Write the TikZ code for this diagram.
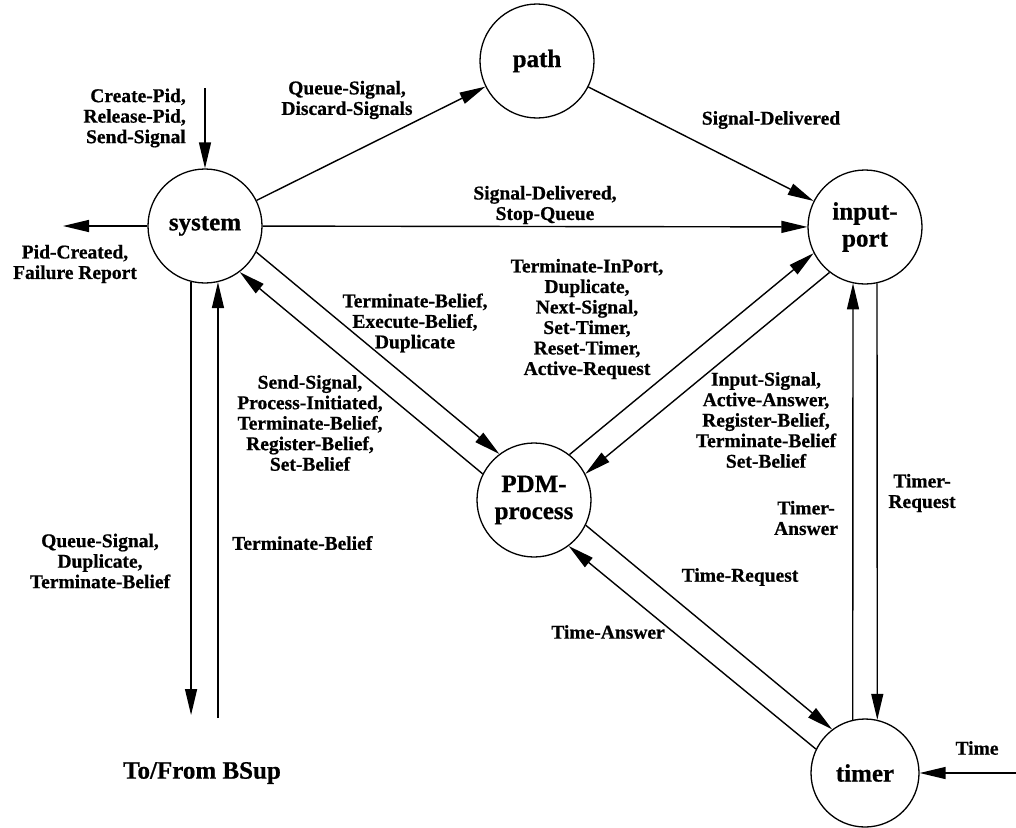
\documentclass[tikz,border=0pt]{standalone}
\usepackage{fontspec}
\setmainfont{Liberation Serif}[BoldFeatures={FakeBold=0.7}]
\usetikzlibrary{arrows.meta,calc}
\begin{document}
\begin{tikzpicture}[x=1pt,y=-1pt,
  state/.style={circle,draw,line width=1.3pt,minimum size=114pt,inner sep=0pt,
    align=center,font=\fontsize{25}{27}\selectfont\bfseries},
  sig/.style={line width=1.4pt,-{Triangle[length=26pt,width=12pt]}},
  lab/.style={inner sep=0pt,align=center,font=\fontsize{19.5}{20.5}\selectfont\bfseries}]
\useasboundingbox (0,0) rectangle (1016,827);

% processes
\node[state] (sys)   at (205,226) {system};
\node[state] (path)  at (537,61)  {path};
\node[state] (inp)   at (865,227) {input-\\port};
\node[state] (pdm)   at (534,500) {PDM-\\process};
\node[state,minimum size=108pt] (timer) at (865,773) {timer};

% free ends of the external flows
\coordinate (ext-in)   at (205,88);
\coordinate (ext-out)  at (63,226);
\coordinate (clock)    at (1016,773);
\coordinate (bsup-dn)  at (191,715);
\coordinate (bsup-up)  at (218,718);

% flows
\draw[sig] (ext-in) -- (sys);
\draw[sig] (sys) -- (ext-out);
\draw[sig] (sys) -- (path);
\draw[sig] (path) -- (inp);
\draw[sig] (sys) -- (inp);
\draw[sig] (sys.-27) -- (pdm.127);
\draw[sig] (pdm.153) -- (sys.-53);
\draw[sig] (pdm.52) -- (inp.207);
\draw[sig] (inp.232) -- (pdm.27);
\draw[sig] (pdm.-26) -- (timer.127);
\draw[sig] (timer.154) -- (pdm.-53);
\draw[sig] (timer.103) -- (inp.258);
\draw[sig] (inp.282) -- (timer.77);
\draw[sig] (clock) -- (timer);
\draw[sig] (sys.256) -- (sys.256 |- bsup-dn);
\draw[sig] (sys.283 |- bsup-up) -- (sys.283);

% flow labels
\node[lab,align=right,anchor=east] (l-create) at (186,118) {Create-Pid,\\Release-Pid,\\Send-Signal};
\node[lab] (l-pid)   at (75,264)  {Pid-Created,\\Failure Report};
\node[lab] (l-queue) at (347,100) {Queue-Signal,\\Discard-Signals};
\node[lab] (l-deliv) at (771,120) {Signal-Delivered};
\node[lab] (l-stop)  at (545,205) {Signal-Delivered,\\Stop-Queue};
\node[lab] (l-inport) at (587,319) {Terminate-InPort,\\Duplicate,\\Next-Signal,\\Set-Timer,\\Reset-Timer,\\Active-Request};
\node[lab] (l-exec)  at (415,323) {Terminate-Belief,\\Execute-Belief,\\Duplicate};
\node[lab] (l-send)  at (310,423) {Send-Signal,\\Process-Initiated,\\Terminate-Belief,\\Register-Belief,\\Set-Belief};
\node[lab] (l-input) at (766,420) {Input-Signal,\\Active-Answer,\\Register-Belief,\\Terminate-Belief\\Set-Belief};
\node[lab] (l-tans)  at (806,518) {Timer-\\Answer};
\node[lab] (l-treq)  at (922,493) {Timer-\\Request};
\node[lab] (l-timereq) at (740,577) {Time-Request};
\node[lab] (l-timeans) at (608,632) {Time-Answer};
\node[lab] (l-time)  at (977,748) {Time};
\node[lab] (l-down)  at (100,561) {Queue-Signal,\\Duplicate,\\Terminate-Belief};
\node[lab,anchor=west] (l-up) at (232,543) {Terminate-Belief};
\node[lab,font=\fontsize{25}{27}\selectfont\bfseries] (l-bsup) at (202,773) {To/From BSup};
\end{tikzpicture}
\end{document}
